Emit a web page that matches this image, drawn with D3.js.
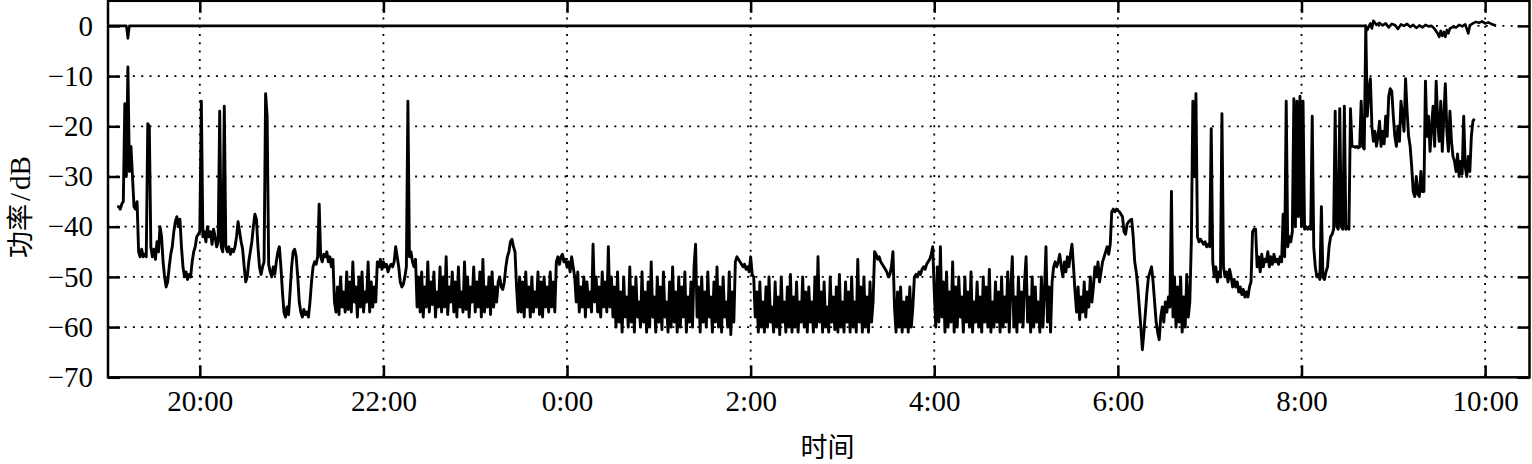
<!DOCTYPE html>
<html><head><meta charset="utf-8">
<script src="https://cdn.jsdelivr.net/npm/d3@7"></script>
<style>html,body{margin:0;padding:0;background:#fff}</style>
</head><body>
<svg id="chart" width="1532" height="464"></svg>
<script>
// ---------------- data ----------------
// measured power, one sample per minute starting at powerStart
const powerStart = "19:06";
const power = [
  -36, -36, -36.5, -35.5,
  -35, -15.5, -30, -8.2, -29, -24, -30, -36, -36.5, -35,
  -45, -46, -44.5, -46, -45.5, -46, -19.5, -20, -44, -46,
  -44.5, -46.5, -43, -45, -40, -42, -47, -50, -52, -51,
  -48, -45.5, -44, -41, -39, -38, -40, -38.5, -44, -48,
  -50, -49, -50.5, -49.5, -50, -47, -45, -44, -42, -41.5,
  -41, -15, -42, -41, -43, -40, -42, -41, -43.5, -40.5,
  -42, -44, -43, -17, -44, -45, -16, -44, -45, -44,
  -45.5, -44.5, -45, -44, -42, -39, -41, -43, -44.5, -48,
  -51, -50, -47, -45, -43, -40, -37.5, -38.5, -44, -48,
  -49.5, -48, -47, -13.5, -18, -47.5, -49, -50, -48, -49.5,
  -47, -45, -44, -48, -53, -57, -58, -56, -57.5, -53,
  -48, -45, -44.5, -46, -50, -55, -57, -58, -56.5, -57.5,
  -57, -58, -55, -51, -48, -47, -47.5, -46, -35.5, -46,
  -47, -45.5, -46, -45, -47, -46, -48, -46.5, -55, -57,
  -52, -57.5, -50, -56, -53, -57, -49, -56.5, -51, -57,
  -47, -55, -52, -58, -50, -56, -49, -57, -53, -55,
  -47, -57, -51, -56, -52, -55, -47, -48, -46.5, -48.5,
  -47, -48, -47.5, -49, -48, -47.5, -48, -47, -44, -46,
  -48, -51, -52, -51.5, -50, -48, -15, -46, -45, -47,
  -48, -46.5, -56, -50, -57, -49, -58, -52, -56, -47,
  -57, -51, -55.5, -49, -58, -53, -56, -48, -57, -50,
  -56, -46, -57.5, -52, -55, -49, -57, -51, -58, -48,
  -56, -53, -57, -47, -56.5, -50, -58, -52, -55, -48,
  -57, -51, -56, -49, -58, -46.5, -57, -52, -56, -50,
  -57.5, -49, -56, -52, -55, -51, -50, -52, -52.5, -51,
  -48, -46, -45, -43, -42.5, -44, -45, -52, -57, -50,
  -57, -51, -58, -49, -56, -52, -58, -50, -57, -53,
  -56, -49, -57.5, -51, -58, -50, -56, -52, -57, -49,
  -56, -51, -57, -47, -46, -47.5, -46, -45.5, -47, -46.5,
  -48, -47, -49, -46, -48, -50, -55, -49, -57, -52,
  -56, -50, -58, -51, -56, -53, -57, -43.5, -55, -50,
  -57, -52, -58, -49, -56, -51, -57, -44, -56, -50,
  -58, -52, -60, -49, -59, -53, -61, -50, -58, -54,
  -60, -48, -59, -52, -61, -50, -58, -55, -60, -49,
  -59, -53, -61, -51, -60, -47, -58, -54, -61, -50,
  -59, -52, -60.5, -49, -58, -55, -61, -51, -60, -48,
  -59, -53, -61, -50, -60, -52, -58, -49, -61, -54,
  -59, -51, -60, -48, -43.5, -58, -52, -61, -50, -59,
  -53, -60, -49, -58, -54, -61, -51, -59, -48, -60,
  -52, -61, -50, -58, -55, -60, -49, -61.5, -53, -59,
  -47, -46, -46.5, -47, -47.5, -48, -47.5, -48.5, -48, -49,
  -46, -49.5, -50, -58, -53, -61, -51, -60, -55, -61,
  -52, -60, -50, -59, -56, -61, -51, -60, -54, -61.5,
  -50, -59, -55, -61, -52, -60, -49.5, -61, -54, -60,
  -51, -61, -55, -59, -50, -60, -53, -61, -52, -59,
  -55, -61, -50, -60, -46, -59, -53, -61, -51, -60,
  -56, -61, -50, -59, -54, -60.5, -52, -61, -49.5, -60,
  -55, -61, -51, -59, -53, -61, -50, -60, -55, -61,
  -46.5, -59, -52, -61, -50, -60, -54, -61, -51, -59,
  -55, -45, -45.5, -46.5, -46, -47, -47.5, -48, -48.5, -49,
  -50, -49.5, -48, -45, -56, -61, -53, -60, -52, -61,
  -55, -60, -54, -61, -52, -60, -56, -50, -49.5, -50,
  -49, -49.5, -48.5, -48, -48.5, -47.5, -47, -46.5, -45.5, -44,
  -53, -60, -48, -59, -44, -58, -51, -61, -49, -60,
  -53, -59, -47, -61, -52, -60, -50, -58, -54, -61,
  -50, -59, -53, -60, -49, -61, -55, -59, -51, -60,
  -54, -61, -50, -59, -52, -60, -48.5, -61, -55, -60,
  -51, -59, -53, -61, -50, -60, -54, -59, -49, -61,
  -52, -46, -60, -54, -61, -50, -59, -53, -60, -51,
  -46, -59, -54, -61, -50, -60, -52, -59, -55, -61,
  -50, -60, -53, -44, -59, -52, -61, -51, -48, -47,
  -48, -47, -45.5, -48, -50, -47, -49, -46, -48, -45.5,
  -43.5, -48, -53, -57, -52, -58.5, -54, -57, -51, -58,
  -53, -56, -50, -55, -52, -48, -50, -47, -51, -49,
  -47, -46, -45, -44, -45.5, -43.5, -37, -36.5, -37, -36.5,
  -36.8, -37, -37.5, -38, -41, -41.5, -39.5, -39, -38.7, -38.5,
  -42, -47, -49, -52, -56, -60, -64.5, -61, -57, -53,
  -50, -49, -48, -51, -55, -59, -61, -62.5, -58, -56,
  -59, -55, -57, -54, -56, -33, -58, -50, -60, -52,
  -59, -50, -61, -54, -60, -49.5, -58, -55, -43, -15,
  -30, -13.5, -42, -43, -42.5, -43, -43.5, -43, -44, -43.5,
  -44, -20.5, -47, -50, -48, -51, -49, -50, -17.5, -48,
  -50, -49, -51, -48.5, -50, -52, -50.5, -52, -51, -53,
  -52, -53.5, -52.5, -54, -53, -54, -52, -51, -41, -40.5,
  -40.5, -48, -46, -49, -45.5, -48, -46.5, -47, -45, -48,
  -46, -47.5, -45.5, -47, -46.5, -47.5, -46, -47, -37.5, -46,
  -15, -44, -42, -43, -41, -14.5, -40, -15, -38, -14,
  -40, -15, -40.5, -40, -40.5, -40, -40.5, -18, -44, -48,
  -50, -49.5, -50.5, -36, -50, -50.5, -49, -48, -44, -42,
  -41.5, -40.5, -17, -40, -40.5, -16.5, -40, -40.5, -16, -40.5,
  -40, -40.5, -16.5, -24, -24, -24.2, -24, -24.3, -24.1, -15,
  -24, -24.5, 0, -18, -13, -10.5, -20, -23, -21, -24,
  -22, -19, -24, -21, -23.5, -18, -22, -14, -12.5, -13,
  -18, -22, -24, -20, -23, -15, -18, -21, -10.5, -17,
  -22, -24, -28, -33, -34, -30, -33.5, -34, -29, -33,
  -33, -11, -22, -18, -25, -20, -16, -24, -11, -19,
  -23, -15, -25, -18, -11.5, -21, -25, -17, -23, -26,
  -27, -29, -25.5, -30, -27, -29.5, -18, -28, -30, -26,
  -29, -22, -19, -18.5
];
// reference trace near 0 dB: minutes after 19:00 and values
const refMinutes = [0, 12, 13, 14, 822, 823, 825, 826, 827, 829, 831, 833, 835, 837, 839, 841, 843, 845, 847, 849,
  851, 853, 855, 857, 859, 861, 863, 865, 867, 869, 870, 871, 872, 873, 874, 875, 876, 877, 879, 881,
  883, 885, 887, 889, 890, 892, 894, 896, 898, 900, 902, 904, 906, 907];
const refPower = [0, 0, -2.5, 0, 0, -0.8, 0.5, -0.5, 1.0, 0.2, 0.6, 0.1, 0.5, -0.3, 0.4, 0.2, -0.6, 0.3, 0, 0.4,
  -0.2, 0.2, -0.4, 0.1, -0.3, 0.2, -0.1, 0, -0.6, -1.5, -2.2, -1.0, -2.0, -1.2, -2.2, -0.8, -1.5, -0.5, -0.2, -0.3,
  0.2, -0.1, 0.3, -1.5, 0.1, 0.5, 0.8, 0.6, 0.9, 0.5, 0.7, 0.4, 0.2, 0];
const yTickValues = [0, -10, -20, -30, -40, -50, -60, -70];
const xTickLabels = ["20:00", "22:00", "0:00", "2:00", "4:00", "6:00", "8:00", "10:00"];
const xDomainLabels = ["19:00", "10:29"];
const yDomain = [-70, 5];
const xTitle = "时间";
const yTitleParts = ["功率", "/", "dB"];

// ---------------- drawing ----------------
function toDate(hm) {
  const [h, m] = hm.split(":").map(Number);
  return new Date(2000, 0, h < 12 ? 2 : 1, h, m);
}
const L = 108, R = 1529.5, T = 0.8, B = 377.3;
const svg = d3.select("#chart");
svg.append("rect").attr("width", 1532).attr("height", 464).attr("fill", "#fff");

const x = d3.scaleTime().domain(xDomainLabels.map(toDate)).range([L, R]);
const y = d3.scaleLinear().domain(yDomain).range([B, T]);
const xTicks = xTickLabels.map(toDate);
const fmt = d3.timeFormat("%-H:%M");
const serif = "'Liberation Serif', 'Times New Roman', serif";

// grid
const grid = svg.append("g").attr("stroke", "#000").attr("stroke-width", 1.8).attr("stroke-dasharray", "2,6.3");
grid.selectAll("line.h").data(yTickValues.filter(v => v > yDomain[0])).join("line")
  .attr("class", "h").attr("x1", L).attr("x2", R).attr("y1", d => y(d)).attr("y2", d => y(d));
grid.selectAll("line.v").data(xTicks).join("line")
  .attr("class", "v").attr("y1", T).attr("y2", B).attr("x1", d => x(d)).attr("x2", d => x(d));

// clip
svg.append("clipPath").attr("id", "clip").append("rect")
  .attr("x", L).attr("y", T).attr("width", R - L).attr("height", B - T);

const start = toDate(powerStart);
const t0 = toDate(xDomainLabels[0]);
const powerData = power.map((v, i) => ({ t: d3.timeMinute.offset(start, i), v }));
const refData = refMinutes.map((m, i) => ({ t: d3.timeMinute.offset(t0, m), v: refPower[i] }));
const line = d3.line().x(d => x(d.t)).y(d => y(d.v));

const plot = svg.append("g").attr("clip-path", "url(#clip)");
plot.append("path").datum(refData).attr("d", line)
  .attr("fill", "none").attr("stroke", "#000").attr("stroke-width", 2.6).attr("stroke-linejoin", "round");
plot.append("path").datum(powerData).attr("d", line)
  .attr("fill", "none").attr("stroke", "#000").attr("stroke-width", 2.9).attr("stroke-linejoin", "round");

// axes
function style(g, labels) {
  g.select(".domain").remove();
  g.selectAll(".tick line").attr("stroke", "#000").attr("stroke-width", 2.5);
  g.attr("font-family", serif).attr("font-size", 29);
  g.selectAll(".tick text").attr("fill", "#000");
  if (!labels) g.selectAll(".tick text").remove();
}
svg.append("g").attr("transform", `translate(${L},0)`)
  .call(d3.axisLeft(y).tickValues(yTickValues).tickSizeInner(-12).tickSizeOuter(0).tickPadding(15))
  .call(g => style(g, true));
svg.append("g").attr("transform", `translate(${R},0)`)
  .call(d3.axisRight(y).tickValues(yTickValues).tickSizeInner(-12).tickSizeOuter(0))
  .call(g => style(g, false));
svg.append("g").attr("transform", `translate(0,${B})`)
  .call(d3.axisBottom(x).tickValues(xTicks).tickFormat(fmt).tickSizeInner(-12).tickSizeOuter(0).tickPadding(13))
  .call(g => style(g, true));
svg.append("g").attr("transform", `translate(0,${T})`)
  .call(d3.axisTop(x).tickValues(xTicks).tickSizeInner(-12).tickSizeOuter(0))
  .call(g => style(g, false));

// frame
svg.append("rect").attr("x", L).attr("y", T).attr("width", R - L).attr("height", B - T)
  .attr("fill", "none").attr("stroke", "#000").attr("stroke-width", 2.5);

// titles
svg.append("text").attr("x", 827.5).attr("y", 457).attr("text-anchor", "middle")
  .attr("font-family", "'Noto Sans CJK SC', sans-serif").attr("font-size", 27).attr("fill", "#000")
  .text(xTitle);
const yt = svg.append("text").attr("transform", "translate(30,207) rotate(-90)")
  .attr("text-anchor", "middle").attr("font-size", 29).attr("fill", "#000");
yt.append("tspan").attr("font-family", "'Noto Sans CJK SC', sans-serif").attr("font-size", 27).text(yTitleParts[0]);
yt.append("tspan").attr("font-family", serif).attr("dx", 3).text(yTitleParts[1]);
yt.append("tspan").attr("font-family", serif).attr("dx", 3).text(yTitleParts[2]);
</script>
</body></html>
